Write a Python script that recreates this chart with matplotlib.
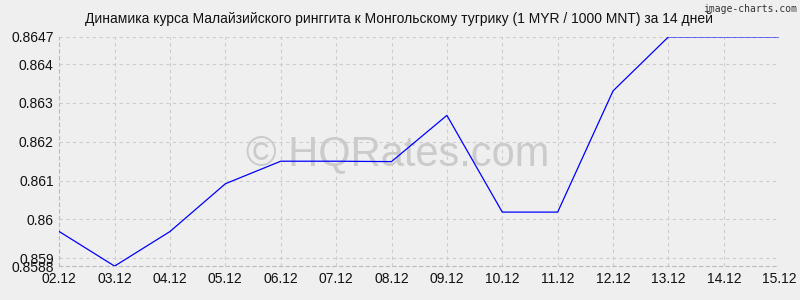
import numpy as np
import matplotlib
matplotlib.use("Agg")
import matplotlib.pyplot as plt

plt.rcParams['font.family'] = ['Liberation Sans', 'DejaVu Sans']

# data
dates = ['02.12', '03.12', '04.12', '05.12', '06.12', '07.12', '08.12',
         '09.12', '10.12', '11.12', '12.12', '13.12', '14.12', '15.12']
rates = [0.85969, 0.8588, 0.85969, 0.86092, 0.8615, 0.8615, 0.86149,
         0.86268, 0.86019, 0.86019, 0.86331, 0.8647, 0.8647, 0.8647]
yticks = [0.8588, 0.859, 0.86, 0.861, 0.862, 0.863, 0.864, 0.8647]
ytick_labels = ['0.8588', '0.859', '0.86', '0.861', '0.862', '0.863', '0.864', '0.8647']

bg = '#efefef'
fig = plt.figure(figsize=(8, 3), dpi=100, facecolor=bg)
ax = fig.add_axes([0.074, 0.113, 0.9, 0.764], facecolor=bg)

x = np.arange(len(dates))
ax.plot(x, rates, color='#0000ff', lw=0.9, zorder=3)

ax.set_xlim(0, len(dates) - 1)
ax.set_ylim(min(yticks), max(yticks))
ax.set_xticks(x)
ax.set_xticklabels(dates)
ax.set_yticks(yticks)
ax.set_yticklabels(ytick_labels)
ax.tick_params(labelsize=10, length=0, pad=4, colors='#111111')

ax.grid(True, color='#cccccc', ls=(0, (3, 3)), lw=0.8)
for s in ['top', 'right']:
    ax.spines[s].set_visible(False)
for s in ['left', 'bottom']:
    ax.spines[s].set_color('#bbbbbb')
    ax.spines[s].set_linestyle((0, (3, 3)))
    ax.spines[s].set_linewidth(0.8)

fig.text(0.4985, 0.937, 'Динамика курса Малайзийского ринггита к Монгольскому тугрику (1 MYR / 1000 MNT) за 14 дней',
         ha='center', va='center', fontsize=10, color='#111111')
fig.text(0.996, 0.988, 'image-charts.com', ha='right', va='top', fontsize=7,
         family='DejaVu Sans Mono', color='#333333')
ax.text(0.47, 0.49, '© HQRates.com', transform=ax.transAxes, ha='center', va='center',
        fontsize=30, color='#cbcbcb', zorder=1)

fig.savefig('out.png', dpi=100, facecolor=bg)
